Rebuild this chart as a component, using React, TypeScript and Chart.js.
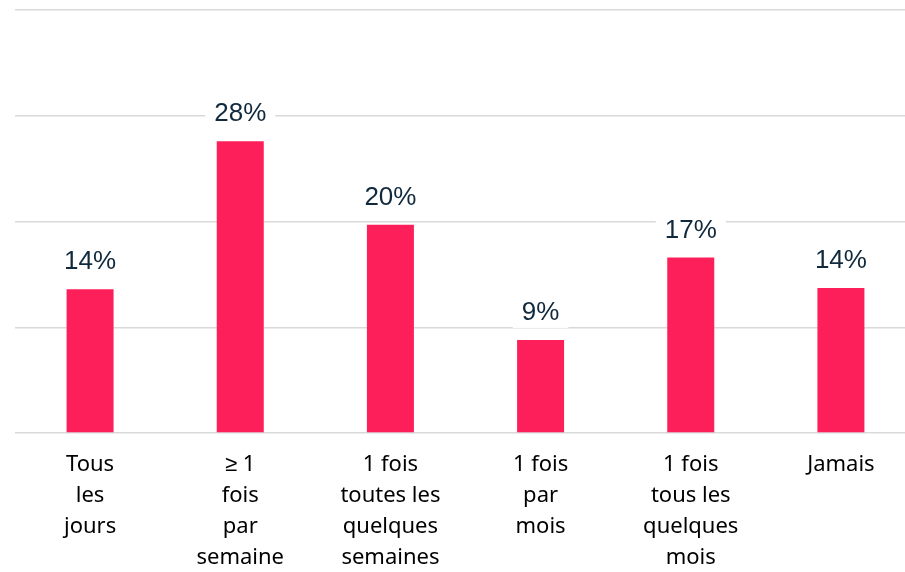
import React, { useEffect, useRef } from "react";
import { Chart, registerables } from "chart.js";

Chart.register(...registerables);

const categories: string[][] = [
  ["Tous", "les", "jours"],
  ["≥ 1", "fois", "par", "semaine"],
  ["1 fois", "toutes les", "quelques", "semaines"],
  ["1 fois", "par", "mois"],
  ["1 fois", "tous les", "quelques", "mois"],
  ["Jamais"],
];
const values: number[] = [13.6, 27.6, 19.7, 8.8, 16.6, 13.7];
const yMax = 40;
const yStep = 10;

const labelPlugin = {
  id: "valueLabels",
  afterDatasetsDraw(chart: any) {
    const ctx = chart.ctx;
    const meta = chart.getDatasetMeta(0);
    ctx.save();
    ctx.font = "26px 'Liberation Sans', Arial, sans-serif";
    ctx.textAlign = "center";
    ctx.textBaseline = "middle";
    meta.data.forEach((bar: any, i: number) => {
      const text = Math.round(values[i]) + "%";
      const w = ctx.measureText(text).width;
      const cx = bar.x;
      const cy = bar.y - 27;
      ctx.fillStyle = "#ffffff";
      ctx.fillRect(cx - w / 2 - 9, cy - 15, w + 18, 30);
      ctx.fillStyle = "#10293d";
      ctx.fillText(text, cx, cy);
    });
    ctx.restore();
  },
};

export default function App() {
  const ref = useRef<HTMLCanvasElement>(null);
  useEffect(() => {
    if (!ref.current) return;
    const chart = new Chart(ref.current, {
      type: "bar",
      data: {
        labels: categories,
        datasets: [
          {
            data: values,
            backgroundColor: "#fd1f59",
            barPercentage: 0.313,
            categoryPercentage: 1,
          },
        ],
      },
      options: {
        animation: false,
        responsive: false,
        maintainAspectRatio: false,
        layout: { padding: { left: 15, right: 4, top: 10, bottom: 0 } },
        plugins: { legend: { display: false }, tooltip: { enabled: false } },
        scales: {
          x: {
            grid: { display: false, drawTicks: false },
            border: { display: false },
            ticks: {
              padding: 16,
              color: "#000000",
              maxRotation: 0,
              autoSkip: false,
              font: { family: "'Noto Sans', sans-serif", size: 22, lineHeight: "31px" as any },
            },
          },
          y: {
            min: 0,
            max: yMax,
            ticks: { display: false, stepSize: yStep },
            grid: { color: "#d9d9d9", lineWidth: 1.5, drawTicks: false },
            border: { display: false },
          },
        },
      },
      plugins: [labelPlugin],
    });
    return () => chart.destroy();
  }, []);
  return (
    <div style={{ position: "fixed", left: 0, top: 0, width: 905, height: 572, overflow: "hidden", background: "#fff" }}>
      <canvas ref={ref} width={920} height={589} style={{ width: 920, height: 589, display: "block" }} />
    </div>
  );
}
